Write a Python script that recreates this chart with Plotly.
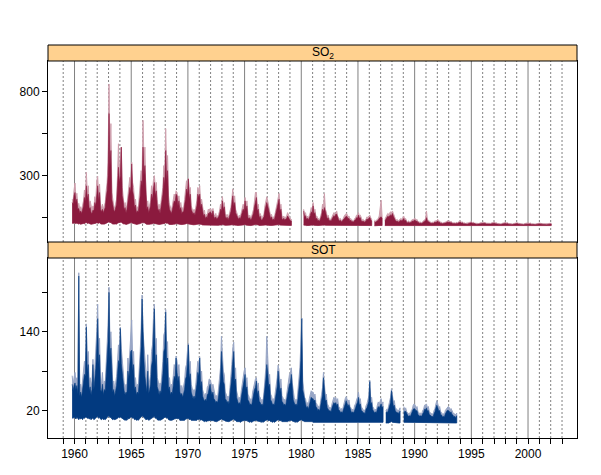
import plotly.graph_objects as go

N = None

# ---------------- data: monthly envelopes ----------------
# SO2 : first month = Oct 1959 (one row per calendar year)
so2_start = (1959, 10)
so2_hi = [
    160, 150, 215,
    256, 170, 195, 120, 135, 100, 115, 95, 130, 150, 215, 180,
    320, 200, 240, 130, 150, 105, 95, 120, 110, 175, 150, 270,
    296, 180, 250, 125, 105, 130, 100, 120, 140, 210, 260, 380,
    846, 450, 610, 200, 150, 120, 105, 140, 160, 300, 490, 330,
    420, 470, 230, 190, 120, 140, 100, 125, 180, 210, 290, 250,
    380, 260, 230, 140, 160, 100, 115, 105, 170, 220, 330, 300,
    630, 380, 470, 190, 130, 150, 100, 125, 150, 240, 200, 270,
    300, 230, 260, 160, 110, 130, 95, 140, 190, 230, 360, 300,
    580, 340, 420, 180, 130, 115, 95, 120, 150, 190, 170, 210,
    200, 150, 180, 120, 140, 95, 110, 105, 160, 200, 270, 230,
    286, 200, 230, 120, 105, 85, 100, 80, 120, 150, 230, 200,
    240, 140, 160, 100, 80, 95, 55, 70, 65, 100, 95, 105,
    100, 80, 105, 70, 60, 75, 50, 60, 70, 90, 130, 110,
    175, 120, 140, 75, 60, 70, 50, 65, 90, 110, 160, 220,
    150, 180, 100, 85, 60, 50, 65, 55, 80, 100, 130, 110,
    170, 120, 150, 70, 55, 65, 45, 60, 75, 100, 150, 200,
    200, 110, 130, 65, 75, 50, 45, 60, 70, 120, 140, 174,
    150, 120, 90, 60, 70, 45, 55, 50, 80, 110, 150, 180,
    194, 110, 130, 60, 50, 60, 45, 55, 60, 80, 60, 55,
    45, 40, N, N, N, N, N, N, N, N, N, N,
    N, N, 100, 70, 80, 50, 60, 45, 65, 80, 110, 95,
    140, 90, 100, 55, 60, 40, 45, 35, 60, 80, 130, 110,
    194, 100, 85, 55, 65, 40, 45, 35, 55, 65, 80, 70,
    85, 90, 60, 50, 40, 45, 30, 40, 45, 60, 65, 75,
    70, 55, 60, 40, 45, 30, 35, 30, 45, 50, 65, 60,
    80, 60, 65, 40, 35, 40, 30, 35, 40, 55, 50, 60,
    65, 50, 40, N, N, 35, 30, 35, 40, 45, 60, 100,
    154, 60, N, N, 40, 55, 60, 75, 70, 80, 85, 80,
    90, 75, 55, 45, 35, 40, 30, 35, 35, 45, 40, 50,
    60, 40, 45, 30, 25, 30, 25, 28, 30, 40, 35, 45,
    45, 35, 40, 25, 28, 20, 24, 20, 28, 30, 38, 40,
    90, 40, 35, 25, 22, 20, 24, 20, 25, 32, 28, 35,
    40, 28, 30, 20, 22, 18, 20, 18, 22, 25, 32, 28,
    32, 25, 28, 20, 18, 20, 17, 18, 22, 20, 26, 28,
    30, 22, 25, 18, 20, 16, 17, 15, 19, 20, 23, 25,
    25, 20, 22, 17, 18, 15, 16, 14, 17, 18, 21, 20,
    24, 20, 22, 17, 16, 15, 16, 14, 16, 19, 20, 24,
    23, 19, 20, 16, 15, 14, 15, 13, 16, 17, 20, 19,
    22, 18, 20, 15, 16, 14, 14, 13, 15, 17, 18, 20,
    20, 17, 18, 15, 14, 13, 14, 12, 15, 16, 18, 18,
    19, 16, 18, 14, 15, 13, 13, 12, 14, 16, 17, 18,
    18, 16, 17, 14, 14, 13, 13, 12, 14, 15, 17, 18,
    17,
]
so2_dk = [
    140, 130, 180,
    200, 140, 160, 100, 105, 80, 90, 75, 100, 120, 170, 150,
    240, 160, 190, 100, 110, 80, 75, 95, 90, 140, 120, 210,
    240, 150, 200, 100, 85, 100, 80, 95, 110, 170, 210, 300,
    670, 350, 450, 160, 115, 95, 85, 110, 130, 240, 350, 260,
    300, 470, 180, 150, 95, 110, 80, 100, 140, 170, 230, 200,
    370, 210, 180, 110, 125, 80, 90, 85, 130, 180, 270, 240,
    470, 300, 360, 150, 100, 115, 80, 100, 120, 190, 160, 220,
    260, 180, 210, 125, 90, 100, 75, 110, 150, 190, 290, 240,
    450, 270, 330, 140, 100, 90, 75, 95, 120, 150, 140, 190,
    180, 120, 150, 95, 110, 75, 85, 85, 130, 160, 220, 190,
    280, 160, 190, 100, 85, 70, 80, 65, 95, 120, 190, 170,
    190, 110, 130, 75, 60, 70, 45, 55, 50, 75, 75, 85,
    80, 65, 90, 55, 45, 55, 40, 48, 55, 70, 100, 90,
    150, 95, 115, 58, 45, 52, 38, 50, 70, 85, 130, 180,
    120, 140, 80, 65, 45, 40, 50, 42, 62, 78, 100, 90,
    150, 95, 120, 52, 42, 50, 35, 45, 58, 78, 115, 160,
    170, 90, 100, 50, 58, 38, 35, 46, 55, 92, 110, 140,
    120, 95, 70, 45, 55, 35, 42, 38, 62, 85, 115, 140,
    160, 85, 100, 45, 38, 46, 35, 42, 45, 60, 45, 40,
    32, 30, N, N, N, N, N, N, N, N, N, N,
    N, N, 90, 55, 62, 40, 46, 36, 50, 62, 85, 75,
    120, 70, 80, 42, 46, 30, 35, 28, 46, 62, 100, 85,
    110, 80, 66, 42, 50, 30, 35, 28, 42, 50, 62, 55,
    70, 70, 46, 38, 30, 35, 24, 30, 35, 46, 50, 58,
    56, 42, 46, 30, 35, 24, 27, 24, 35, 38, 50, 46,
    65, 46, 50, 30, 27, 30, 23, 27, 30, 42, 38, 46,
    52, 38, 30, N, N, 27, 23, 27, 30, 35, 46, 50,
    55, 46, N, N, 30, 42, 46, 58, 55, 62, 66, 62,
    75, 58, 42, 35, 27, 30, 23, 27, 27, 35, 30, 38,
    45, 30, 35, 23, 19, 23, 19, 21, 23, 30, 27, 35,
    35, 27, 30, 19, 21, 15, 18, 15, 21, 23, 29, 30,
    50, 30, 27, 19, 17, 15, 18, 15, 19, 24, 21, 27,
    30, 21, 23, 15, 17, 14, 15, 14, 17, 19, 24, 21,
    24, 19, 21, 15, 14, 15, 13, 14, 17, 15, 20, 21,
    23, 17, 19, 14, 15, 12, 13, 11, 14, 15, 17, 19,
    19, 15, 17, 13, 13, 11, 12, 10, 13, 13, 16, 15,
    18, 15, 17, 13, 12, 11, 12, 10, 12, 14, 15, 18,
    17, 14, 15, 12, 11, 10, 11, 9, 12, 13, 15, 14,
    16, 13, 15, 11, 12, 10, 10, 9, 11, 13, 13, 15,
    15, 12, 13, 11, 10, 9, 10, 8, 11, 12, 13, 13,
    14, 12, 13, 10, 11, 9, 9, 8, 10, 12, 12, 13,
    13, 12, 12, 10, 10, 9, 9, 8, 10, 11, 12, 13,
    12,
]
so2_lo = [
    18, 16, 20,
    20, 15, 18, 14, 12, 15, 11, 13, 12, 16, 14, 19,
    21, 16, 18, 13, 14, 11, 12, 10, 13, 15, 17, 20,
    19, 17, 20, 14, 12, 13, 11, 12, 14, 16, 18, 22,
    26, 20, 22, 15, 13, 12, 11, 13, 12, 17, 20, 22,
    22, 24, 18, 14, 12, 13, 10, 12, 13, 15, 18, 17,
    21, 17, 18, 13, 12, 10, 11, 10, 13, 15, 19, 18,
    22, 18, 20, 13, 11, 12, 10, 11, 12, 15, 14, 17,
    18, 16, 17, 12, 11, 10, 9, 11, 13, 14, 17, 16,
    20, 17, 18, 12, 10, 11, 9, 10, 11, 13, 12, 15,
    14, 12, 14, 11, 10, 9, 9, 10, 11, 13, 15, 14,
    15, 12, 13, 10, 9, 8, 8, 7, 9, 11, 13, 12,
    12, 9, 10, 7, 6, 5, 5, 5, 6, 7, 7, 8,
    8, 7, 8, 6, 5, 5, 4, 5, 5, 6, 8, 7,
    9, 7, 8, 5, 5, 4, 4, 4, 6, 7, 8, 10,
    8, 9, 6, 5, 4, 4, 4, 4, 5, 6, 7, 6,
    9, 6, 7, 5, 4, 4, 3, 4, 5, 6, 7, 9,
    9, 6, 7, 4, 5, 3, 3, 4, 5, 6, 7, 8,
    8, 7, 5, 4, 4, 3, 3, 3, 5, 6, 7, 8,
    9, 6, 7, 4, 4, 3, 3, 3, 4, 4, 4, 4,
    4, 4, N, N, N, N, N, N, N, N, N, N,
    N, N, 6, 4, 5, 3, 3, 3, 4, 5, 6, 5,
    7, 5, 6, 3, 4, 3, 3, 2, 4, 5, 6, 6,
    7, 5, 5, 3, 4, 3, 3, 2, 3, 4, 4, 4,
    5, 5, 4, 3, 3, 3, 2, 2, 3, 3, 4, 4,
    4, 3, 4, 3, 3, 2, 2, 2, 3, 3, 4, 4,
    5, 4, 4, 3, 2, 3, 2, 2, 3, 3, 3, 4,
    4, 3, 3, N, N, 2, 2, 2, 3, 3, 3, 4,
    4, 3, N, N, 3, 3, 3, 4, 4, 5, 5, 5,
    5, 4, 3, 3, 2, 2, 2, 2, 2, 3, 3, 3,
    4, 3, 3, 2, 2, 2, 2, 2, 2, 2, 3, 3,
    4, 3, 3, 2, 2, 2, 2, 2, 2, 3, 3, 4,
    5, 3, 3, 2, 2, 2, 2, 2, 2, 3, 3, 3,
    4, 3, 2, 2, 2, 2, 2, 2, 2, 2, 3, 3,
    3, 3, 2, 2, 2, 2, 2, 2, 2, 2, 3, 3,
    3, 3, 2, 2, 2, 2, 2, 2, 2, 2, 3, 3,
    3, 3, 2, 2, 2, 2, 2, 2, 2, 2, 3, 4,
    3, 3, 2, 2, 2, 2, 2, 2, 2, 2, 3, 3,
    3, 3, 2, 2, 2, 2, 2, 2, 2, 2, 3, 3,
    3, 3, 2, 2, 2, 2, 2, 2, 2, 2, 3, 3,
    3, 3, 2, 2, 2, 2, 2, 2, 2, 2, 3, 3,
    3, 3, 2, 2, 2, 2, 2, 2, 2, 2, 3, 3,
    3, 3, 2, 2, 2, 2, 2, 2, 2, 2, 3, 3,
    3,
]

# SOT : first month = Oct 1959 (one row per calendar year)
sot_start = (1959, 10)
sot_hi = [
    73, 58, 70,
    78, 62, 70, 55, 230, 52, 60, 50, 65, 72, 95, 90,
    152, 95, 110, 62, 70, 55, 65, 98, 65, 85, 105, 140,
    182, 110, 130, 65, 60, 78, 55, 65, 62, 90, 115, 150,
    208, 125, 140, 75, 60, 65, 52, 62, 72, 95, 120, 110,
    147, 115, 95, 70, 62, 55, 60, 58, 100, 85, 110, 130,
    158, 100, 110, 65, 70, 55, 60, 58, 80, 110, 145, 196,
    140, 120, 90, 70, 60, 105, 58, 65, 75, 110, 120, 160,
    182, 110, 130, 70, 65, 55, 62, 58, 80, 95, 135, 140,
    174, 110, 125, 65, 70, 55, 60, 58, 72, 90, 85, 103,
    95, 80, 90, 60, 55, 58, 50, 60, 65, 85, 90, 110,
    122, 85, 95, 60, 55, 48, 52, 48, 62, 75, 95, 90,
    102, 70, 80, 52, 48, 42, 46, 42, 55, 58, 68, 67,
    62, 55, 60, 48, 45, 40, 43, 40, 52, 65, 85, 133,
    100, 80, 75, 48, 45, 40, 42, 38, 55, 70, 90, 115,
    124, 80, 85, 50, 45, 38, 40, 36, 50, 62, 70, 80,
    85, 65, 70, 45, 42, 36, 38, 35, 48, 55, 65, 68,
    70, 55, 62, 42, 40, 35, 37, 34, 48, 62, 85, 133,
    95, 70, 75, 45, 42, 36, 38, 35, 48, 58, 70, 89,
    80, 60, 68, 42, 40, 35, 37, 34, 45, 52, 65, 75,
    78, 85, 62, 45, 40, 35, 37, 34, 48, 62, 85, 120,
    161, 65, 55, 40, 38, 30, 32, 28, 38, 45, 50, 48,
    48, 42, 45, 32, 30, 25, 27, 24, 34, 40, 55, 78,
    55, 42, 45, 30, 28, 24, 25, 22, 30, 34, 40, 38,
    40, 34, 38, 26, 25, 21, 23, 20, 28, 32, 38, 41,
    38, 33, 36, 26, 24, 20, 22, 20, 28, 30, 36, 40,
    48, 35, 38, 25, 24, 20, 21, 19, 27, 30, 36, 42,
    66, 38, 40, 26, 24, 20, 22, 20, 28, 33, 30, 36,
    38, 30, 33, N, N, 20, 22, 21, 28, 32, 40, 53,
    42, 33, 35, 24, 23, 20, 21, 19, 24, N, N, N,
    26, 22, 24, 18, 17, 15, 16, 15, 20, 22, 28, 30,
    28, 24, 26, 18, 17, 15, 16, 15, 20, 22, 28, 27,
    30, 24, 26, 18, 17, 15, 15, 14, 20, 23, 30, 35,
    30, 24, 26, 18, 17, 14, 15, 14, 20, 22, 25, 26,
    25, 21, 23, 18, 17, 14, 15, 13, 16,
]
sot_dk = [
    60, 50, 58,
    62, 52, 58, 45, 225, 42, 48, 40, 52, 58, 75, 72,
    147, 78, 90, 50, 56, 44, 52, 90, 52, 68, 84, 115,
    160, 90, 105, 52, 48, 60, 44, 52, 50, 72, 92, 125,
    200, 100, 115, 60, 48, 52, 42, 50, 58, 76, 96, 90,
    145, 92, 76, 56, 50, 44, 48, 46, 80, 68, 88, 110,
    112, 80, 90, 52, 56, 44, 48, 46, 64, 90, 118, 190,
    115, 96, 72, 56, 48, 80, 46, 52, 60, 88, 96, 135,
    175, 88, 105, 56, 52, 44, 50, 46, 64, 76, 110, 115,
    170, 88, 100, 52, 56, 44, 48, 46, 58, 72, 68, 100,
    78, 64, 72, 48, 44, 46, 40, 48, 52, 68, 72, 92,
    120, 68, 76, 48, 44, 38, 42, 38, 50, 60, 78, 72,
    100, 56, 64, 42, 38, 34, 37, 34, 44, 46, 54, 60,
    50, 44, 48, 38, 36, 32, 34, 32, 42, 52, 68, 110,
    82, 64, 60, 38, 36, 32, 34, 30, 44, 56, 72, 95,
    110, 64, 68, 40, 36, 30, 32, 29, 40, 50, 56, 65,
    75, 52, 56, 36, 34, 29, 30, 28, 38, 44, 52, 55,
    65, 44, 50, 34, 32, 28, 30, 27, 38, 50, 68, 90,
    78, 56, 60, 36, 34, 29, 30, 28, 38, 46, 56, 80,
    65, 48, 54, 34, 32, 28, 30, 27, 36, 42, 52, 60,
    62, 75, 50, 36, 32, 28, 30, 27, 38, 50, 68, 96,
    160, 52, 44, 32, 30, 24, 26, 22, 30, 36, 40, 38,
    38, 34, 36, 26, 24, 20, 22, 19, 27, 32, 44, 70,
    44, 34, 36, 24, 22, 19, 20, 18, 24, 27, 32, 30,
    32, 27, 30, 21, 20, 17, 18, 16, 22, 26, 30, 35,
    30, 26, 29, 21, 19, 16, 18, 16, 22, 24, 29, 32,
    40, 28, 30, 20, 19, 16, 17, 15, 22, 24, 29, 34,
    64, 30, 32, 21, 19, 16, 18, 16, 22, 26, 24, 29,
    30, 24, 26, N, N, 16, 18, 17, 22, 26, 32, 50,
    34, 26, 28, 19, 18, 16, 17, 15, 19, N, N, N,
    20, 17, 19, 14, 13, 11, 12, 11, 15, 17, 22, 23,
    22, 19, 20, 14, 13, 11, 12, 11, 15, 17, 22, 21,
    24, 19, 20, 14, 13, 11, 11, 10, 15, 18, 24, 28,
    24, 19, 20, 14, 13, 10, 11, 10, 15, 17, 20, 20,
    19, 16, 18, 14, 13, 10, 11, 9, 12,
]
sot_lo = [
    9, 8, 10,
    9, 7, 10, 8, 6, 9, 7, 8, 6, 9, 8, 10,
    10, 8, 9, 7, 8, 6, 7, 9, 6, 8, 9, 10,
    11, 8, 10, 7, 6, 8, 6, 7, 6, 8, 9, 11,
    12, 9, 10, 7, 6, 7, 6, 6, 7, 8, 10, 9,
    10, 9, 8, 7, 6, 5, 6, 5, 8, 7, 9, 10,
    10, 8, 9, 6, 7, 5, 6, 5, 7, 9, 10, 12,
    10, 9, 8, 6, 6, 7, 5, 6, 6, 8, 9, 10,
    11, 8, 9, 6, 6, 5, 6, 5, 7, 7, 9, 10,
    10, 8, 9, 6, 6, 5, 5, 5, 6, 7, 7, 8,
    8, 7, 8, 5, 5, 5, 4, 5, 5, 7, 7, 8,
    8, 6, 7, 5, 4, 4, 4, 4, 5, 5, 7, 6,
    7, 5, 6, 4, 4, 3, 4, 3, 4, 4, 5, 5,
    5, 4, 5, 4, 3, 3, 3, 3, 4, 5, 6, 7,
    6, 5, 5, 4, 3, 3, 3, 3, 4, 5, 6, 6,
    7, 5, 5, 3, 3, 3, 3, 2, 3, 4, 5, 5,
    5, 4, 5, 3, 3, 2, 3, 2, 3, 4, 4, 5,
    5, 4, 4, 3, 3, 2, 3, 2, 3, 4, 5, 6,
    6, 4, 5, 3, 3, 2, 3, 2, 3, 4, 5, 6,
    5, 4, 5, 3, 3, 2, 3, 2, 3, 3, 4, 5,
    5, 5, 4, 3, 3, 2, 3, 2, 3, 4, 5, 6,
    6, 4, 4, 3, 2, 2, 2, 2, 2, 3, 3, 3,
    2, 2, 2, 1, 1, 1, 1, 1, 1, 2, 2, 2,
    2, 2, 2, 1, 1, 1, 1, 1, 1, 2, 2, 2,
    2, 2, 2, 1, 1, 1, 1, 1, 1, 2, 2, 2,
    2, 2, 2, 1, 1, 1, 1, 1, 1, 2, 2, 2,
    2, 2, 2, 1, 1, 1, 1, 1, 1, 2, 2, 2,
    2, 2, 2, 1, 1, 1, 1, 1, 1, 2, 2, 2,
    2, 2, 2, N, N, 1, 1, 1, 1, 2, 2, 3,
    2, 2, 2, 1, 1, 1, 1, 1, 1, N, N, N,
    2, 1, 1, 1, 1, 1, 1, 1, 1, 1, 2, 2,
    2, 1, 1, 1, 1, 1, 1, 1, 1, 1, 2, 2,
    2, 1, 1, 1, 1, 1, 1, 1, 1, 1, 2, 2,
    2, 1, 1, 1, 1, 1, 1, 1, 1, 1, 2, 2,
    2, 1, 1, 1, 1, 1, 1, 1, 1,
]

panel_titles = ["SO<sub>2</sub>", "SOT"]
year_labels = [1960, 1965, 1970, 1975, 1980, 1985, 1990, 1995, 2000]
year_minor = [y for y in range(1959, 2004) if y % 5 != 0]
so2_ticks, so2_minor = [300, 800], [50, 550]
sot_ticks, sot_minor = [20, 140], [80, 200]

assert len(so2_hi) == len(so2_dk) == len(so2_lo), (len(so2_hi), len(so2_dk), len(so2_lo))
assert len(sot_hi) == len(sot_dk) == len(sot_lo), (len(sot_hi), len(sot_dk), len(sot_lo))

# ---------------- helpers ----------------
def month_times(start, n):
    y, m = start
    out = []
    for i in range(n):
        k = m - 1 + i
        out.append(y + k // 12 + ((k % 12) + 0.5) / 12.0)
    return out


def segments(t, hi, lo):
    segs, cur = [], []
    for ti, h, l in zip(t, hi, lo):
        if h is None or l is None:
            if cur:
                segs.append(cur)
                cur = []
        else:
            cur.append((ti, h, l))
    if cur:
        segs.append(cur)
    return segs


def band(t, hi, lo, color, xa, ya, width):
    out = []
    for seg in segments(t, hi, lo):
        xs = [p[0] for p in seg] + [p[0] for p in reversed(seg)]
        ys = [p[1] for p in seg] + [p[2] for p in reversed(seg)]
        out.append(go.Scatter(x=xs, y=ys, mode="lines", fill="toself",
                              fillcolor=color, line=dict(color=color, width=width),
                              xaxis=xa, yaxis=ya, hoverinfo="skip", showlegend=False))
    return out


RED_D, RED_L = "#8B1A3E", "#CFA0AE"
BLUE_D, BLUE_L = "#023A80", "#98A6C6"

fig = go.Figure()
t_so2 = month_times(so2_start, len(so2_hi))
t_sot = month_times(sot_start, len(sot_hi))
for tr in band(t_so2, so2_hi, so2_lo, RED_L, "x", "y", 1):
    fig.add_trace(tr)
for tr in band(t_so2, so2_dk, so2_lo, RED_D, "x", "y", 0.6):
    fig.add_trace(tr)
for tr in band(t_sot, sot_hi, sot_lo, BLUE_L, "x2", "y2", 1):
    fig.add_trace(tr)
for tr in band(t_sot, sot_dk, sot_lo, BLUE_D, "x2", "y2", 0.6):
    fig.add_trace(tr)

# ---------------- layout ----------------
BOT = [0.0, 0.458]
BOT_STRIP = [0.458, 0.4987]
TOP = [0.4987, 0.9593]
TOP_STRIP = [0.9593, 1.0]
XR = [1957.66, 2004.32]

axis_common = dict(showgrid=False, zeroline=False, showline=True, linecolor="black",
                   linewidth=1, mirror=True, tickcolor="black", tickwidth=1,
                   tickfont=dict(size=12, color="black"))


def minor(vals):
    return dict(tickvals=vals, ticks="outside", ticklen=5, tickwidth=1,
                tickcolor="black", showgrid=False)


fig.update_layout(
    width=601, height=475,
    margin=dict(l=48, r=24, t=45, b=37),
    plot_bgcolor="white", paper_bgcolor="white",
    font=dict(family="Liberation Sans, Arial, sans-serif", size=12, color="black"),
    showlegend=False,
    xaxis=dict(domain=[0, 1], anchor="y", range=XR, showticklabels=False, ticks="",
               **axis_common),
    yaxis=dict(domain=TOP, anchor="x", range=[-95, 983], tickmode="array",
               tickvals=so2_ticks, ticktext=[str(v) for v in so2_ticks],
               ticks="outside", ticklen=5, minor=minor(so2_minor), **axis_common),
    xaxis2=dict(domain=[0, 1], anchor="y2", range=XR, tickmode="array",
                tickvals=year_labels, ticktext=[str(y) for y in year_labels],
                ticks="outside", ticklen=5, minor=minor(year_minor), matches="x",
                **axis_common),
    yaxis2=dict(domain=BOT, anchor="x2", range=[-22, 252.5], tickmode="array",
                tickvals=sot_ticks, ticktext=[str(v) for v in sot_ticks],
                ticks="outside", ticklen=5, minor=minor(sot_minor), **axis_common),
)

shapes = []
for y in range(1959, 2004):
    solid = (y % 5 == 0)
    for xr, yr in (("x", "y domain"), ("x2", "y2 domain")):
        shapes.append(dict(type="line", xref=xr, yref=yr, x0=y, x1=y, y0=0, y1=1,
                           layer="below",
                           line=dict(color="#808080", width=1,
                                     dash="solid" if solid else "2px,2px")))
for dom in (TOP_STRIP, BOT_STRIP):
    shapes.append(dict(type="rect", xref="paper", yref="paper", x0=0, x1=1,
                       y0=dom[0], y1=dom[1], fillcolor="#FFD18F",
                       line=dict(color="black", width=1), layer="above"))
fig.update_layout(shapes=shapes)

annotations = []
for title, dom in zip(panel_titles, (TOP_STRIP, BOT_STRIP)):
    annotations.append(dict(text=title, xref="paper", yref="paper", x=0.52,
                            y=(dom[0] + dom[1]) / 2, xanchor="center", yanchor="middle",
                            showarrow=False, font=dict(size=12, color="black")))
fig.update_layout(annotations=annotations)

fig.write_html("out.html")
